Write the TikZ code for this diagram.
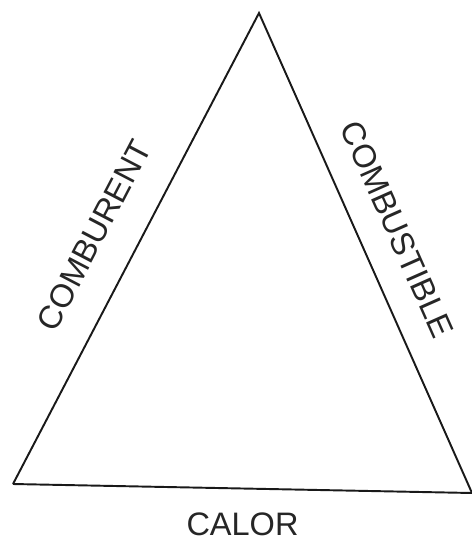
\documentclass[tikz,border=0pt]{standalone}
\usepackage{fontspec}
\setmainfont{Liberation Sans}
\usepackage{tikz}
\usetikzlibrary{positioning,calc}

\begin{document}
\begin{tikzpicture}[x=0.02cm,y=-0.02cm,
  side/.style={draw=black!90,line width=1.1pt,line join=miter},
  label/.style={font=\fontsize{18.5}{21}\selectfont,text=black!85,inner sep=0pt}]

\path[use as bounding box] (0,0) rectangle (472,539);
\coordinate (apex) at (259,13);
\coordinate (left) at (13,484);
\coordinate (right) at (472,493);
\draw[side] (left)--(apex)--(right);
\draw[side] (left)--(right);
\path (left)--(apex) node[label,pos=.486,sloped,above=.63cm] (comburent) {COMBURENT};
\path (apex)--(right) node[label,pos=.484,sloped,above=.53cm] (combustible) {COMBUSTIBLE};
\path (left)--(right) node[label,pos=.5,below=.48cm] (calor) {CALOR};

\end{tikzpicture}
\end{document}
